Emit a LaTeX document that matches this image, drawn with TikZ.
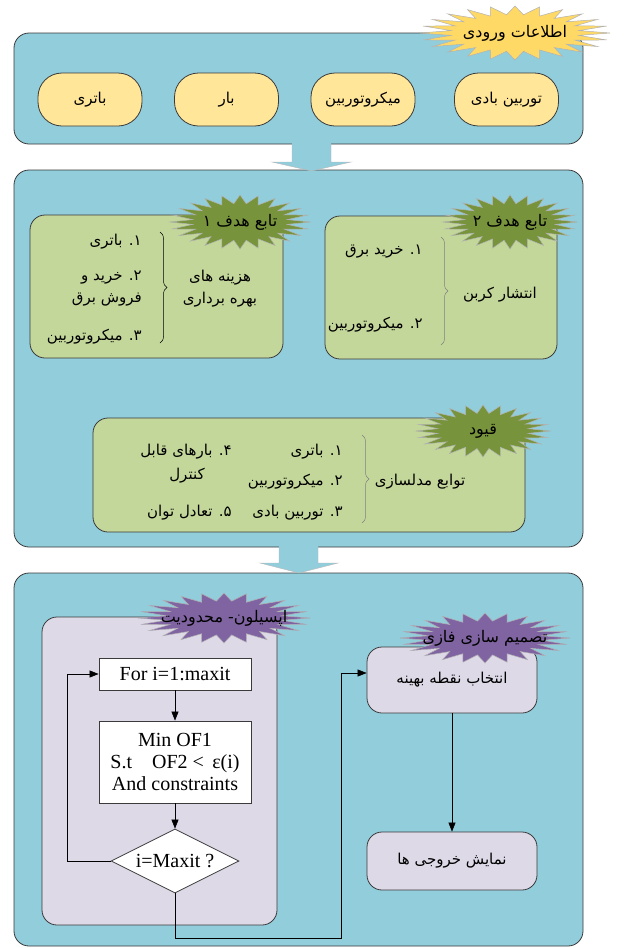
\documentclass[tikz,border=0pt]{standalone}
\usepackage{fontspec}
\setmainfont{Liberation Serif}
\newfontfamily\arabicfont[Script=Arabic]{DejaVu Sans}
\TeXXeTstate=1
\usetikzlibrary{shapes.geometric,arrows.meta,decorations.pathreplacing,calc}
\newcommand\fa[1]{{\arabicfont\beginR #1\endR}}
\newcommand\fasize{\fontsize{15pt}{22pt}\selectfont}
\newcommand\starsize{\fontsize{16pt}{22pt}\selectfont}
\newcommand\ensize{\fontsize{20pt}{22pt}\selectfont}
\definecolor{panelblue}{HTML}{92CDDC}
\definecolor{pillyellow}{HTML}{FFE699}
\definecolor{staryellow}{HTML}{FFD966}
\definecolor{boxgreen}{HTML}{C4D79B}
\definecolor{stargreen}{HTML}{77933C}
\definecolor{boxlav}{HTML}{DDD9E7}
\definecolor{starpurple}{HTML}{8064A2}
\definecolor{edgegray}{HTML}{3A3A3A}
\newcommand\seal[4]{%
  \filldraw[fill=#4, draw=gray!60, line width=0.5pt] ($(#1)+(#2,0)$)
  \foreach \i in {1,...,47}{ -- ($(#1)+({\i*7.5}:{(0.84+0.16*cos(\i*180))*#2} and {(0.84+0.16*cos(\i*180))*#3})$) } -- cycle;}
\begin{document}
\begin{tikzpicture}[x=1pt,y=-1pt,
  panel/.style={draw=edgegray, line width=0.8pt, fill=panelblue, rounded corners=15pt, inner sep=0pt},
  pill/.style={draw=edgegray, line width=0.8pt, fill=pillyellow, rounded corners=24pt, minimum width=104pt, minimum height=53pt, inner sep=0pt, font=\fasize},
  gbox/.style={draw=edgegray, line width=0.8pt, fill=boxgreen, rounded corners=15pt, inner sep=0pt},
  lbox/.style={draw=edgegray, line width=0.8pt, fill=boxlav, rounded corners=15pt, inner sep=0pt, font=\fasize},
  wbox/.style={draw=edgegray, line width=0.8pt, fill=white, inner sep=0pt, font=\ensize, align=center},
  fatext/.style={inner sep=0pt, font=\fasize, align=center},
  startext/.style={inner sep=0pt, font=\starsize, align=center},
  flow/.style={draw=black, line width=0.6pt, -{Triangle[length=9pt,width=7pt]}},
  arrowedge/.style={draw=gray!55, line width=0.4pt},
  brc/.style={decorate, decoration={brace, amplitude=7pt}, line width=0.5pt},
]
\useasboundingbox (0,0) rectangle (644,948);
\fill[white] (0,0) rectangle (644,948);

% panels
\node[panel, minimum width=569pt, minimum height=111pt] (p1) at (298.5,88.5) {};
\node[panel, minimum width=569pt, minimum height=377pt] (p2) at (298.5,358.5) {};
\node[panel, minimum width=569pt, minimum height=373pt] (p3) at (298.5,759.5) {};

% block arrows
\coordinate (a1) at (311.5,171);
\fill[panelblue] (292,140) -- (292,162) -- (272,162) -- (a1) -- (351,162) -- (331,162) -- (331,140) -- cycle;
\draw[arrowedge] (292,145) -- (292,162) -- (272,162) -- (a1) -- (351,162) -- (331,162) -- (331,145);
\coordinate (a2) at (299,573);
\fill[panelblue] (279,543) -- (279,563) -- (260,563) -- (a2) -- (338,563) -- (318,563) -- (318,543) -- cycle;
\draw[arrowedge] (279,548) -- (279,563) -- (260,563) -- (a2) -- (338,563) -- (318,563) -- (318,548);

% panel 1
\node[pill] (in1) at (90,99.5) {\fa{باتری}};
\node[pill] (in2) at (226.5,99.5) {\fa{بار}};
\node[pill] (in3) at (363,99.5) {\fa{میکروتوربین}};
\node[pill] (in4) at (506.5,99.5) {\fa{توربین بادی}};
\coordinate (s1c) at (515,33);
\seal{s1c}{95}{27}{staryellow}
\node[startext] (s1) at (s1c) {\fa{اطلاعات ورودی}};

% panel 2 : objective 1
\node[gbox, minimum width=253pt, minimum height=143pt] (of1) at (156.5,286.5) {};
\coordinate (s2c) at (240,222);
\seal{s2c}{70}{27}{stargreen}
\node[startext] (s2) at (s2c) {\fa{تابع هدف ۱}};
\node[fatext, anchor=east] (o11) at (142,242) {\fa{۱\kern0pt. باتری}};
\node[fatext, anchor=east, align=right] (o12) at (142,289) {\fa{۲\kern0pt. خرید و}\\\fa{فروش برق}};
\node[fatext, anchor=east] (o13) at (142,337) {\fa{۳\kern0pt. میکروتوربین}};
\draw[brc] (160,232) -- (160,343);
\node[fatext] (o1l) at (220,289) {\fa{هزینه های}\\\fa{بهره برداری}};

% objective 2
\node[gbox, minimum width=232pt, minimum height=143pt] (of2) at (441,287.5) {};
\coordinate (s3c) at (510,222);
\seal{s3c}{67}{27}{stargreen}
\node[startext] (s3) at (s3c) {\fa{تابع هدف ۲}};
\node[fatext, anchor=east] (o21) at (423,252) {\fa{۱\kern0pt. خرید برق}};
\node[fatext, anchor=east] (o22) at (423,325) {\fa{۲\kern0pt. میکروتوربین}};
\draw[brc, draw=gray] (441,237) -- (441,345);
\node[fatext] (o2l) at (500,295) {\fa{انتشار کربن}};

% constraints
\node[gbox, minimum width=432pt, minimum height=114pt] (cons) at (309,475) {};
\coordinate (s4c) at (483,431);
\seal{s4c}{67}{26}{stargreen}
\node[startext] (s4) at (s4c) {\fa{قیود}};
\node[fatext, anchor=east] (c1) at (343,452) {\fa{۱\kern0pt. باتری}};
\node[fatext, anchor=east] (c2) at (343,482) {\fa{۲\kern0pt. میکروتوربین}};
\node[fatext, anchor=east] (c3) at (343,513) {\fa{۳\kern0pt. توربین بادی}};
\node[fatext, anchor=east] (c4) at (232,452) {\fa{۴\kern0pt. بارهای قابل}};
\node[fatext] (c4b) at (187,476) {\fa{کنترل}};
\node[fatext, anchor=east] (c5) at (232,513) {\fa{۵\kern0pt. تعادل توان}};
\draw[brc, draw=gray] (362,435) -- (362,523);
\node[fatext] (cl) at (420,482) {\fa{توابع مدلسازی}};

% panel 3
\node[lbox, minimum width=235pt, minimum height=308pt] (eps) at (159.5,771) {};
\coordinate (s5c) at (224,618);
\seal{s5c}{86}{25}{starpurple}
\node[startext] (s5) at (s5c) {\fa{اپسیلون\kern0pt- محدودیت}};
\node[wbox, minimum width=152pt, minimum height=32pt] (for) at (175,674) {For i=1:maxit};
\node[wbox, minimum width=152pt, minimum height=82pt] (min) at (175,762) {Min OF1\\S.t\quad OF2 <\, ε(i)\\And constraints};
\node[diamond, draw=edgegray, line width=0.8pt, fill=white, minimum width=128pt, minimum height=64pt, inner sep=0pt, font=\ensize] (dia) at (175,861) {\makebox[0pt]{i=Maxit ?}};

\node[lbox, minimum width=170pt, minimum height=66pt] (sel) at (452,680) {\fa{انتخاب نقطه بهینه}};
\coordinate (s6c) at (485,638);
\seal{s6c}{85}{25}{starpurple}
\node[startext] (s6) at (s6c) {\fa{تصمیم سازی فازی}};
\node[lbox, minimum width=170pt, minimum height=58pt] (out) at (452,861) {\fa{نمایش خروجی ها}};

% connectors
\draw[flow] (for) -- (min);
\draw[flow] (min) -- (dia);
\draw[flow] (dia.west) -- ++(-43,0) |- (for.west);
\coordinate (bt) at (341,938);
\draw[flow] (dia.south) |- (bt) |- ([yshift=7pt]sel.west);
\draw[flow] (sel) -- (out);
\end{tikzpicture}
\end{document}
